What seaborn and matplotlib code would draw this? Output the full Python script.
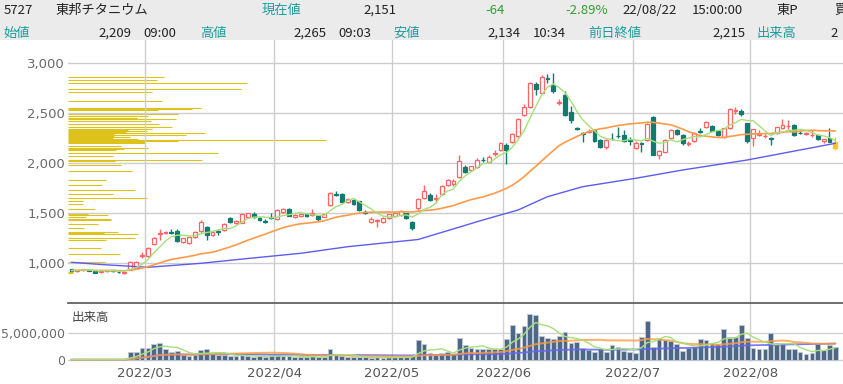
import matplotlib
matplotlib.use("Agg")
import matplotlib.pyplot as plt
from matplotlib.patches import Rectangle
from matplotlib.ticker import FuncFormatter
import numpy as np
import pandas as pd
import seaborn as sns

# 5727 東邦チタニウム 日足 2022/02/08 - 2022/08/22
opens = [
    940, 925, 930, 935, 925, 910, 925, 930, 915, 900, 935, 950, 1075,  # 2月
    1075, 1190, 1295, 1305, 1310, 1320, 1215, 1205, 1265, 1320, 1365, 1280, 1325, 1330, 1450, 1400,
    1405, 1465, 1495, 1450, 1425, 1460,  # 3月
    1440, 1515, 1540, 1462, 1470, 1492, 1480, 1472, 1465, 1580, 1695, 1690, 1612, 1635, 1620, 1510,
    1412, 1425, 1413, 1447,  # 4月
    1470, 1480, 1497, 1413, 1547, 1650, 1680, 1640, 1690, 1780, 1790, 1860, 1960, 1933, 1960, 2035,
    2013, 2090, 2130,  # 5月
    2180, 2213, 2270, 2480, 2563, 2793, 2700, 2845, 2783, 2605, 2683, 2510, 2350, 2300, 2310, 2330,
    2230, 2157, 2245, 2275, 2280, 2228,  # 6月
    2147, 2200, 2230, 2463, 2085, 2113, 2247, 2330, 2280, 2195, 2223, 2315, 2357, 2370, 2320, 2263,
    2347, 2525, 2523, 2397,  # 7月
    2247, 2285, 2270, 2250, 2297, 2347, 2368, 2380, 2305, 2292, 2278, 2280, 2220, 2253, 2209,  # 8月
]
highs = [
    945, 935, 945, 940, 930, 930, 935, 935, 925, 925, 1020, 1025, 1110,
    1160, 1260, 1340, 1320, 1340, 1340, 1255, 1265, 1320, 1430, 1375, 1320, 1340, 1405, 1460, 1430,
    1495, 1505, 1510, 1460, 1440, 1500,
    1545, 1550, 1555, 1490, 1495, 1500, 1540, 1480, 1495, 1715, 1720, 1700, 1650, 1645, 1625, 1530,
    1460, 1440, 1460, 1495,
    1505, 1530, 1505, 1420, 1650, 1780, 1700, 1690, 1780, 1840, 1840, 2080, 1985, 1975, 2050, 2060,
    2080, 2130, 2210,
    2200, 2300, 2450, 2590, 2810, 2810, 2880, 2893, 2900, 2640, 2720, 2570, 2365, 2310, 2340, 2345,
    2240, 2240, 2300, 2363, 2333, 2260,
    2220, 2210, 2400, 2470, 2130, 2240, 2340, 2340, 2290, 2225, 2310, 2350, 2420, 2380, 2330, 2355,
    2550, 2565, 2540, 2400,
    2345, 2330, 2295, 2260, 2365, 2440, 2430, 2390, 2320, 2310, 2330, 2290, 2245, 2355, 2265,
]
lows = [
    920, 915, 925, 920, 900, 905, 915, 915, 900, 890, 930, 940, 1050,
    1060, 1180, 1230, 1290, 1290, 1210, 1200, 1190, 1255, 1300, 1230, 1270, 1280, 1320, 1400, 1390,
    1400, 1455, 1455, 1420, 1400, 1440,
    1430, 1505, 1470, 1455, 1460, 1465, 1475, 1420, 1460, 1575, 1670, 1600, 1600, 1585, 1520, 1490,
    1400, 1360, 1405, 1440,
    1465, 1475, 1440, 1330, 1535, 1640, 1620, 1600, 1680, 1770, 1770, 1850, 1900, 1920, 1950, 2010,
    2005, 2070, 2120,
    1990, 2200, 2260, 2470, 2550, 2683, 2690, 2800, 2700, 2580, 2470, 2400, 2330, 2213, 2300, 2215,
    2150, 2140, 2230, 2250, 2210, 2180,
    2140, 2110, 2225, 2080, 2040, 2100, 2240, 2280, 2180, 2170, 2215, 2300, 2350, 2320, 2270, 2250,
    2340, 2490, 2470, 2200,
    2175, 2270, 2250, 2180, 2290, 2340, 2340, 2275, 2290, 2280, 2260, 2232, 2205, 2215, 2134,
]
closes = [
    925, 930, 940, 925, 905, 925, 930, 920, 910, 915, 1010, 1010, 1085,
    1150, 1250, 1300, 1310, 1305, 1225, 1250, 1260, 1315, 1415, 1285, 1310, 1315, 1395, 1415, 1425,
    1490, 1500, 1460, 1435, 1410, 1450,
    1535, 1540, 1475, 1482, 1490, 1470, 1500, 1440, 1490, 1705, 1680, 1610, 1640, 1592, 1530, 1500,
    1438, 1432, 1447, 1487,
    1497, 1523, 1447, 1347, 1640, 1720, 1630, 1648, 1770, 1830, 1820, 2025, 1913, 1967, 2030, 2030,
    2063, 2100, 2197,
    2130, 2290, 2437, 2557, 2797, 2740, 2860, 2838, 2717, 2615, 2483, 2430, 2342, 2290, 2322, 2223,
    2157, 2230, 2237, 2268, 2223, 2222,
    2197, 2195, 2390, 2085, 2123, 2230, 2330, 2287, 2197, 2205, 2303, 2312, 2413, 2320, 2280, 2347,
    2537, 2530, 2487, 2223,
    2337, 2292, 2275, 2245, 2357, 2380, 2372, 2280, 2300, 2298, 2282, 2237, 2237, 2215, 2151,
]
volumes = [
    90000, 80000, 110000, 90000, 70000, 100000, 80000, 90000, 70000, 100000, 1600000, 1500000,
    2300000,
    2200000, 3100000, 3300000, 2100000, 1600000, 1700000, 900000, 800000, 1000000, 1900000, 2000000,
    1100000, 1000000, 900000, 800000, 700000, 900000, 800000, 600000, 700000, 600000, 900000,
    900000, 800000, 700000, 600000, 500000, 600000, 700000, 500000, 600000, 2100000, 1000000, 800000,
    600000, 500000, 600000, 500000, 400000, 500000, 400000, 500000,
    600000, 500000, 600000, 700000, 3700000, 3100000, 1400000, 1000000, 1400000, 1600000, 1200000,
    4200000, 2900000, 2300000, 2000000, 2000000, 2100000, 2000000, 2100000,
    3900000, 6600000, 5100000, 6400000, 8700000, 8400000, 4500000, 4100000, 3900000, 4500000, 5200000,
    3300000, 3400000, 2200000, 1900000, 1600000, 2100000, 1600000, 2800000, 2400000, 1800000, 1600000,
    1400000, 4400000, 7300000, 2500000, 4100000, 3750000, 3600000, 3100000, 1750000, 2200000, 2500000,
    3900000, 3750000, 3250000, 3100000, 5900000, 4400000, 4250000, 6600000, 4100000,
    2200000, 2000000, 2000000, 5000000, 3250000, 3100000, 2000000, 2000000, 1600000, 1100000, 1250000,
    3100000, 1900000, 2900000, 2400000,
]

month_labels = ["2022/03", "2022/04", "2022/05", "2022/06", "2022/07", "2022/08"]
month_start = [13, 35, 55, 74, 96, 116]

# 75日移動平均 (チャートから読み取り)
ma75_day = [0, 5, 13, 22, 30, 39, 47, 59, 70, 76, 81, 87, 96, 104, 115, 130]
ma75_val = [1007, 985, 957, 997, 1045, 1097, 1163, 1235, 1430, 1530, 1663, 1763, 1847, 1930, 2030, 2197]

# 価格帯別出来高
profile_price = [2860, 2830, 2800, 2740, 2710, 2620, 2550, 2540, 2530, 2490, 2470, 2450, 2440, 2420,
                 2390, 2360, 2340, 2330, 2320, 2310, 2300, 2290, 2280, 2270, 2260, 2250, 2240, 2230,
                 2220, 2210, 2200, 2170, 2150, 2140, 2130, 2100, 2070, 2030, 2020, 1980, 1920, 1830,
                 1780, 1730, 1690, 1650, 1620, 1590, 1540, 1500, 1490, 1480, 1460, 1440, 1430, 1390,
                 1350, 1310, 1300, 1290, 1250, 1230, 1150, 1090, 1010, 910, 900]
profile_vol = [960, 890, 1790, 1730, 840, 940, 1330, 1240, 900, 1100, 800, 690, 1080, 830,
               910, 1040, 840, 600, 790, 580, 1370, 460, 1180, 460, 620, 450, 700, 2580,
               1100, 770, 770, 530, 800, 560, 480, 1500, 450, 1340, 470, 530, 640, 380,
               340, 670, 450, 790, 150, 150, 270, 200, 200, 400, 180, 430, 430, 300,
               160, 500, 360, 700, 670, 380, 330, 520, 370, 50, 50]

up_col = "#ff6464"
down_col = "#137a70"
last_col = "#f5c81c"
prof_col = "#dcc21a"

df = pd.DataFrame({"day": np.arange(len(closes)), "open": opens, "high": highs,
                   "low": lows, "close": closes, "volume": volumes})
df["ma5"] = df["close"].rolling(5, min_periods=1).mean()
df["ma25"] = df["close"].rolling(25, min_periods=1).mean()
df["vma5"] = df["volume"].rolling(5, min_periods=1).mean()
df["vma25"] = df["volume"].rolling(25, min_periods=1).mean()
df["vma75"] = df["volume"].rolling(75, min_periods=1).mean()

sns.set_style("white")
plt.rcParams["font.family"] = ["DejaVu Sans", "Noto Sans CJK JP"]

W, H = 843, 384
fig = plt.figure(figsize=(W / 100, H / 100), dpi=100)


def rect(l, t, r, b):
    return [l / W, 1 - b / H, (r - l) / W, (b - t) / H]


# ヘッダー
fig.add_artist(Rectangle((0, 1 - 40 / H), 1, 40 / H, transform=fig.transFigure,
                         facecolor="#ebebeb", edgecolor="none", zorder=0))
teal = "#1c9c9c"
green = "#2ea02e"
dark = "#222222"
header = [
    ("5727", 4, 10.5, "left", dark), ("東邦チタニウム", 55, 10.5, "left", dark),
    ("現在値", 262, 10.5, "left", teal), ("2,151", 396, 10.5, "right", dark),
    ("-64", 505, 10.5, "right", green), ("-2.89%", 608, 10.5, "right", green),
    ("22/08/22", 622, 10.5, "left", dark), ("15:00:00", 692, 10.5, "left", dark),
    ("東P", 776, 10.5, "left", dark), ("買", 834, 10.5, "left", dark),
    ("始値", 3, 33.5, "left", teal), ("2,209", 131, 33.5, "right", dark),
    ("09:00", 176, 33.5, "right", dark), ("高値", 200, 33.5, "left", teal),
    ("2,265", 326, 33.5, "right", dark), ("09:03", 371, 33.5, "right", dark),
    ("安値", 393, 33.5, "left", teal), ("2,134", 521, 33.5, "right", dark),
    ("10:34", 566, 33.5, "right", dark), ("前日終値", 588, 33.5, "left", teal),
    ("2,215", 745, 33.5, "right", dark), ("出来高", 757, 33.5, "left", teal),
    ("2", 830, 33.5, "left", dark),
]
for txt, x, y, ha, col in header:
    fig.text(x / W, 1 - y / H, txt, ha=ha, va="center", color=col, fontsize=9.5,
             family=["Noto Sans CJK JP", "DejaVu Sans"])

grid_x = [s - 0.5 for s in month_start]
xmin, xmax = -0.6, 131.3
ylo, yhi = 610, 3230

# 価格帯別出来高 (背面の軸)
ax_p = fig.add_axes(rect(68, 40, 843, 302))
ax_p.barh(profile_price, profile_vol, height=9, color=prof_col, edgecolor=prof_col,
          linewidth=0.8, align="center")
ax_p.set_xlim(0, max(profile_vol) * 775 / 258)
ax_p.set_ylim(ylo, yhi)
ax_p.axis("off")

ax = fig.add_axes(rect(68, 40, 843, 302))
ax.patch.set_visible(False)
ax_v = fig.add_axes(rect(68, 303, 843, 362), sharex=ax)

# ローソク足
n = len(df)
is_up = df["close"] >= df["open"]
cols = [last_col if i == n - 1 else (up_col if is_up[i] else down_col) for i in range(n)]
faces = [last_col if i == n - 1 else ("white" if is_up[i] else down_col) for i in range(n)]
ax.vlines(df["day"], df["low"], df["high"], colors=cols, linewidth=1, zorder=3)
body_bottom = np.minimum(df["open"], df["close"])
body_height = np.maximum((df["close"] - df["open"]).abs(), 5)
ax.bar(df["day"], body_height, bottom=body_bottom, width=0.66, color=faces,
       edgecolor=cols, linewidth=0.9, zorder=4)

sns.lineplot(x=ma75_day, y=ma75_val, ax=ax, color="#5c5cf2", linewidth=1, zorder=5)
sns.lineplot(data=df, x="day", y="ma25", ax=ax, color="#ff9a48", linewidth=1.2, zorder=5)
sns.lineplot(data=df, x="day", y="ma5", ax=ax, color="#a6e07a", linewidth=1, zorder=6)

ax.set_xlim(xmin, xmax)
ax.set_ylim(ylo, yhi)
ax.set_yticks([1000, 1500, 2000, 2500, 3000])
ax.yaxis.set_major_formatter(FuncFormatter(lambda v, p: f"{int(v):,}"))
ax.set_xticks(grid_x)
ax.grid(True, color="#cdcdcd", linewidth=1)
ax.set_axisbelow(True)
ax.tick_params(axis="x", length=0, labelbottom=False)
ax.tick_params(axis="y", length=0, pad=2, labelsize=9.5, labelcolor="#6a6a6a")
ax.set_xlabel("")
ax.set_ylabel("")
for s in ax.spines.values():
    s.set_visible(False)

# 出来高
ax_v.bar(df["day"], df["volume"], width=0.8, color="#4d6886", edgecolor="#c3cbd4",
         linewidth=0.6, zorder=2)
sns.lineplot(data=df, x="day", y="vma75", ax=ax_v, color="#6464f5", linewidth=1.3, alpha=0.85, zorder=3)
sns.lineplot(data=df, x="day", y="vma25", ax=ax_v, color="#ff9a40", linewidth=1.4, alpha=0.8, zorder=3)
sns.lineplot(data=df, x="day", y="vma5", ax=ax_v, color="#a6e07a", linewidth=1, zorder=4)
ax_v.set_xlim(xmin, xmax)
ax_v.set_ylim(-350000, 10700000)
ax_v.set_yticks([0, 5000000])
ax_v.yaxis.set_major_formatter(FuncFormatter(lambda v, p: f"{int(v):,}"))
ax_v.set_xticks(grid_x)
ax_v.set_xticklabels(month_labels)
ax_v.grid(True, color="#d2d2d2", linewidth=1)
ax_v.set_axisbelow(True)
ax_v.tick_params(axis="x", length=0, pad=3, labelsize=9.5, labelcolor="#555555")
ax_v.tick_params(axis="y", length=0, pad=2, labelsize=9, labelcolor="#6a6a6a")
ax_v.set_xlabel("")
ax_v.set_ylabel("")
for k, s in ax_v.spines.items():
    s.set_visible(k == "top")
ax_v.spines["top"].set_color("#555555")
ax_v.spines["top"].set_linewidth(1.2)
ax_v.text(0.005, 0.75, "出来高", transform=ax_v.transAxes, ha="left", va="center",
          fontsize=9, color="#444444", family=["Noto Sans CJK JP", "DejaVu Sans"])

fig.savefig("out.png", dpi=100)
